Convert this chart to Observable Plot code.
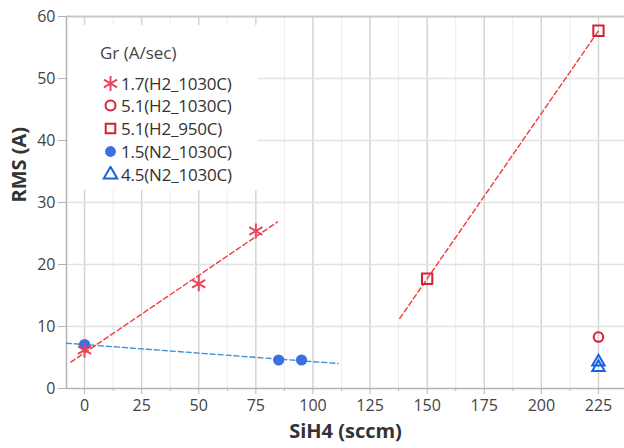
<!DOCTYPE html>
<html><head><meta charset="utf-8">
<script src="https://cdn.jsdelivr.net/npm/d3@7"></script>
<script src="https://cdn.jsdelivr.net/npm/@observablehq/plot@0.6"></script>
<style>
body{margin:0;background:#fff;font-family:"Open Sans",sans-serif;}
#wrap{position:relative;width:624px;height:448px;overflow:hidden;}
#legend{position:absolute;left:68px;top:25px;width:190px;height:165px;background:#fff;color:#333;}
#legend .title{position:absolute;left:32px;top:16px;font-size:17px;color:#444;}
#legend .row{position:absolute;left:34px;height:22px;display:flex;align-items:center;font-size:17px;white-space:nowrap;letter-spacing:-0.2px;}
#legend svg{margin-right:2px;}
</style></head><body><div id="wrap"></div>
<script>
// ---- data ----
const seriesNames = ["1.7(H2_1030C)", "5.1(H2_1030C)", "5.1(H2_950C)", "1.5(N2_1030C)", "4.5(N2_1030C)"];
const seriesSymbols = ["asterisk", "circle", "square", "circle", "triangle"];
const seriesColors = ["#e8465c", "#d42232", "#d42232", "#3d6fe0", "#1a62de"];
const seriesFilled = [false, false, false, true, false];

const h2_1030_17_x = [0, 50, 75];
const h2_1030_17_y = [6.2, 16.9, 25.4];
const h2_1030_51_x = [225];
const h2_1030_51_y = [8.3];
const h2_950_51_x = [150, 225];
const h2_950_51_y = [17.7, 57.7];
const n2_1030_15_x = [0, 85, 95];
const n2_1030_15_y = [7.1, 4.6, 4.6];
const n2_1030_45_x = [225, 225];
const n2_1030_45_y = [4.3, 3.4];

// fitted lines: series index and x extent of the drawn fit
const fitSeries = [3, 0, 2];
const fitExtents = [[-7.9, 111], [-6, 84.5], [138, 225.5]];
const fitColors = ["#3f92da", "#ee3b3b", "#ee3b3b"];

const xTicks = [0, 25, 50, 75, 100, 125, 150, 175, 200, 225];
const xMinorTicks = [12.5, 37.5, 62.5, 87.5, 112.5, 137.5, 162.5, 187.5, 212.5];
const yTicks = [0, 10, 20, 30, 40, 50, 60];
const xDomain = [-7.9, 236.4];
const yDomain = [0, 60];

// ---- build tables ----
const seriesX = [h2_1030_17_x, h2_1030_51_x, h2_950_51_x, n2_1030_15_x, n2_1030_45_x];
const seriesY = [h2_1030_17_y, h2_1030_51_y, h2_950_51_y, n2_1030_15_y, n2_1030_45_y];
const points = [];
seriesX.forEach((xs, i) => xs.forEach((x, j) => points.push({x, y: seriesY[i][j], s: i})));

function fit(xs, ys) {
  const mx = d3.mean(xs), my = d3.mean(ys);
  let sxy = 0, sxx = 0;
  xs.forEach((x, i) => { sxy += (x - mx) * (ys[i] - my); sxx += (x - mx) ** 2; });
  const b = sxy / sxx, a = my - b * mx;
  return x => a + b * x;
}
const fitLines = [];
fitSeries.forEach((si, k) => {
  const f = fit(seriesX[si], seriesY[si]);
  fitExtents[k].forEach(x => fitLines.push({x, y: f(x), k}));
});

const drawOrder = [3, 4, 1, 2, 0];
const dotMarks = drawOrder.map(i => {
  const data = points.filter(p => p.s === i);
  const r = [7.2, 4.8, 5.8, 5.6, 4.6][i];
  return Plot.dot(data, {
    x: "x", y: "y", r,
    symbol: () => seriesSymbols[i],
    fill: seriesFilled[i] ? seriesColors[i] : "none",
    stroke: seriesFilled[i] ? "none" : seriesColors[i],
    strokeWidth: 2
  });
});

const chart = Plot.plot({
  width: 624, height: 448,
  marginLeft: 66, marginTop: 16, marginBottom: 60, marginRight: 0,
  style: {fontFamily: "'Open Sans', sans-serif", fontSize: "16px", color: "#444", background: "#fff"},
  x: {type: "linear", domain: xDomain, ticks: xTicks},
  y: {type: "linear", domain: yDomain, ticks: yTicks},
  marks: [
    Plot.ruleX(xMinorTicks, {stroke: "#ececec", strokeWidth: 1}),
    Plot.ruleX(xTicks, {stroke: "#d4d4d4", strokeWidth: 1.5}),
    Plot.ruleY(yTicks.slice(1, -1), {stroke: "#e2e2e2", strokeWidth: 1.5}),
    Plot.ruleY([yDomain[1]], {stroke: "#c8c8c8", strokeWidth: 2}),
    Plot.ruleY([0], {stroke: "#b4b4b4", strokeWidth: 1.5}),
    Plot.ruleX([xDomain[0]], {stroke: "#b4b4b4", strokeWidth: 1.5}),
    Plot.axisX({ticks: xTicks, tickSize: 6, tickPadding: 5, stroke: "#b4b4b4", label: null, fill: "#444"}),
    Plot.axisX({ticks: xMinorTicks, tickSize: 3, text: null, stroke: "#b4b4b4", label: null}),
    Plot.axisY({ticks: yTicks, tickSize: 8, tickPadding: 3, stroke: "#b4b4b4", label: null, fill: "#444"}),
    Plot.line(fitLines, {x: "x", y: "y", z: "k", stroke: d => fitColors[d.k], strokeWidth: 1.4, strokeDasharray: "5,3"}),
    ...dotMarks,
    Plot.text(["SiH4 (sccm)"], {frameAnchor: "bottom", dy: 49, fontWeight: "bold", fontSize: 20, fill: "#333"}),
    Plot.text(["RMS (A)"], {frameAnchor: "left", dx: -47, rotate: -90, fontWeight: "bold", fontSize: 20, fill: "#333"})
  ]
});
const wrap = document.getElementById("wrap");
wrap.appendChild(chart);

// ---- legend box ----
const legend = document.createElement("div");
legend.id = "legend";
const t = document.createElement("div");
t.className = "title"; t.textContent = "Gr (A/sec)";
legend.appendChild(t);
const symMap = {asterisk: d3.symbolAsterisk, circle: d3.symbolCircle, square: d3.symbolSquare, triangle: d3.symbolTriangle};
const legR = [7.2, 5, 5.4, 5.4, 5];
seriesNames.forEach((name, i) => {
  const row = document.createElement("div");
  row.className = "row";
  row.style.top = (47 + i * 22.8) + "px";
  const svg = d3.create("svg").attr("width", 17).attr("height", 17);
  svg.append("path")
    .attr("transform", "translate(8.5,8.5)")
    .attr("d", d3.symbol(symMap[seriesSymbols[i]], Math.PI * legR[i] * legR[i])())
    .attr("fill", seriesFilled[i] ? seriesColors[i] : "none")
    .attr("stroke", seriesFilled[i] ? "none" : seriesColors[i])
    .attr("stroke-width", 2);
  row.appendChild(svg.node());
  const span = document.createElement("span");
  span.textContent = name;
  row.appendChild(span);
  legend.appendChild(row);
});
wrap.appendChild(legend);
</script></body></html>
